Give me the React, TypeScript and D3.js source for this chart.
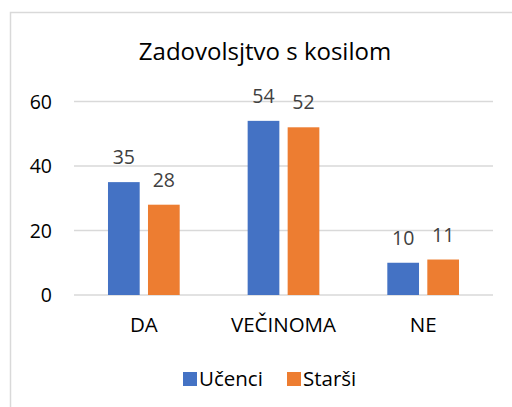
import React from "react";
import * as d3 from "d3";

const categories = ["DA", "VEČINOMA", "NE"];
const seriesNames = ["Učenci", "Starši"];
const ucenci = [35, 54, 10];
const starsi = [28, 52, 11];
const yTicks = [0, 20, 40, 60];
const title = "Zadovolsjtvo s kosilom";

const colors = ["#4472C4", "#ED7D31"];
const FONT = "'Open Sans', sans-serif";

export default function App() {
  const W = 512, H = 407;
  const x0 = 74, x1 = 493, yTop = 101.5, yBot = 295;
  const x = d3.scaleBand<string>().domain(categories).range([x0, x1]).paddingInner(0).paddingOuter(0);
  const y = d3.scaleLinear().domain([0, 60]).range([yBot, yTop]);
  const barW = 31.7, gap = 8.3;
  const series = [ucenci, starsi];
  return (
    <svg width={W} height={H} style={{ position: "absolute", left: 0, top: 0 }}>
      <rect x={0} y={0} width={W} height={H} fill="#fff" />
      <path d={`M10.5,${H} V12.5 H${W}`} fill="none" stroke="#d9d9d9" strokeWidth={1.5} />
      <text x={265} y={59.5} textAnchor="middle" fontFamily={FONT} fontSize={24} fill="#000">{title}</text>
      {yTicks.map(t => (
        <g key={t}>
          <line x1={x0} x2={x1} y1={y(t)} y2={y(t)} stroke="#d9d9d9" strokeWidth={1.5} />
          <text x={52} y={y(t) + 7} textAnchor="end" fontFamily={FONT} fontSize={19.5} fill="#000">{t}</text>
        </g>
      ))}
      {categories.map((c, i) => {
        const cx = (x(c) as number) + x.bandwidth() / 2;
        return (
          <g key={c}>
            {series.map((s, j) => {
              const bx = j === 0 ? cx - gap / 2 - barW : cx + gap / 2;
              return (
                <g key={j}>
                  <rect x={bx} y={y(s[i])} width={barW} height={yBot - y(s[i])} fill={colors[j]} />
                  <text x={bx + barW / 2} y={y(s[i]) - 18} textAnchor="middle" fontFamily={FONT} fontSize={19.5} fill="#404040">{s[i]}</text>
                </g>
              );
            })}
            <text x={cx} y={332} textAnchor="middle" fontFamily={FONT} fontSize={20.5} fill="#000">{c}</text>
          </g>
        );
      })}
      {seriesNames.map((n, j) => {
        const lx = j === 0 ? 183 : 287;
        return (
          <g key={n}>
            <rect x={lx} y={372} width={14} height={14} fill={colors[j]} />
            <text x={lx + 16} y={386} fontFamily={FONT} fontSize={20.5} fill="#000">{n}</text>
          </g>
        );
      })}
    </svg>
  );
}
